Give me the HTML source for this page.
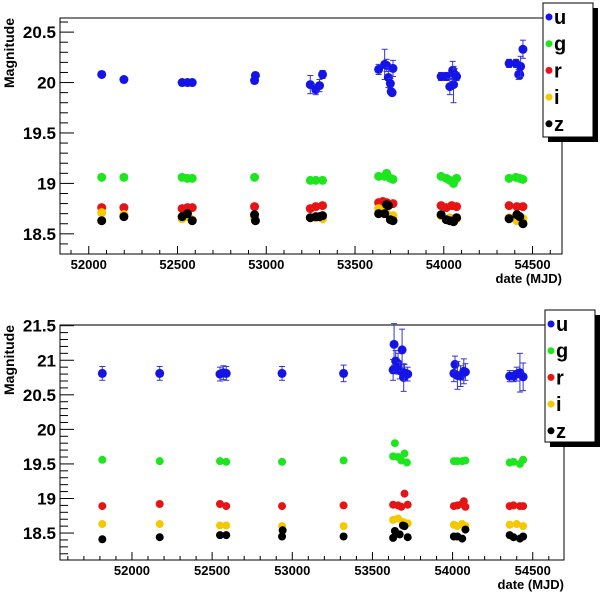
<!DOCTYPE html>
<html><head><meta charset="utf-8"><style>
html,body{margin:0;padding:0;background:#fff;}
svg{display:block;font-family:"Liberation Sans",Arial,sans-serif;}
</style></head><body>
<svg id="chart" width="600" height="593" viewBox="0 0 600 593" xmlns="http://www.w3.org/2000/svg"></svg>
<script>
// ===== Top panel data =====
const topBands = ["u","g","r","i","z"];
const topUx = [52073,52198,52526,52556,52583,52934,52939,53248,53279,53300,53317,53633,53667,53678,53688,53699,53704,53709,53714,53985,54014,54034,54050,54055,54061,54072,54368,54407,54422,54428,54433,54446];
const topUy = [20.08,20.03,20.0,20.0,20.0,20.02,20.07,19.98,19.93,19.97,20.08,20.13,20.18,20.17,20.05,19.99,19.91,19.90,20.14,20.06,20.06,19.96,20.12,19.98,20.08,20.06,20.19,20.19,20.08,20.08,20.16,20.33];
const topUe = [0.03,0.02,0.03,0.03,0.03,0.02,0.02,0.09,0.05,0.06,0.04,0.05,0.15,0.06,0.1,0.05,0.03,0.03,0.08,0.04,0.04,0.08,0.09,0.18,0.06,0.04,0.04,0.04,0.05,0.04,0.1,0.09];
const topGx = [52073,52198,52526,52556,52583,52934,53248,53279,53317,53633,53667,53678,53699,53714,53985,54014,54034,54055,54072,54368,54407,54428,54446];
const topGy = [19.06,19.06,19.06,19.05,19.05,19.06,19.03,19.03,19.03,19.07,19.07,19.10,19.05,19.04,19.07,19.05,19.03,19.00,19.05,19.05,19.06,19.05,19.04];
const topRx = [52073,52198,52526,52556,52583,52934,53248,53279,53317,53633,53657,53678,53714,53985,54014,54045,54072,54368,54412,54446];
const topRy = [18.76,18.76,18.75,18.76,18.76,18.77,18.75,18.77,18.78,18.81,18.82,18.81,18.80,18.78,18.76,18.78,18.77,18.78,18.77,18.77];
const topIx = [52073,52198,52526,52556,52583,52934,53248,53279,53317,53633,53657,53678,53714,53985,54034,54072,54368,54412,54446];
const topIy = [18.71,18.69,18.65,18.67,18.64,18.66,18.66,18.66,18.65,18.75,18.73,18.70,18.68,18.68,18.66,18.65,18.66,18.63,18.65];
const topZx = [52073,52198,52526,52556,52583,52934,52939,53248,53279,53300,53317,53633,53667,53678,53688,53699,53714,53985,54014,54034,54055,54072,54368,54412,54428,54446];
const topZy = [18.63,18.67,18.67,18.70,18.63,18.69,18.63,18.66,18.67,18.67,18.68,18.70,18.70,18.79,18.78,18.64,18.63,18.69,18.64,18.63,18.62,18.66,18.65,18.69,18.67,18.60];
const topYTicks = [18.5,19,19.5,20,20.5];
const topYLabels = ["18.5","19","19.5","20","20.5"];
const xTicks = [52000,52500,53000,53500,54000,54500];
const xLabels = ["52000","52500","53000","53500","54000","54500"];

// ===== Bottom panel data =====
const botUx = [51815,52173,52549,52570,52588,52936,53320,53629,53635,53645,53660,53670,53685,53695,53700,53720,54008,54015,54030,54050,54070,54080,54356,54380,54400,54420,54440];
const botUy = [20.81,20.81,20.80,20.82,20.81,20.81,20.81,20.86,21.23,20.99,20.95,20.85,21.15,20.75,20.82,20.80,20.81,20.94,20.78,20.77,20.84,20.83,20.77,20.77,20.80,20.82,20.76];
const botUe = [0.1,0.1,0.1,0.1,0.1,0.1,0.12,0.15,0.3,0.15,0.15,0.12,0.3,0.2,0.12,0.1,0.12,0.12,0.2,0.15,0.18,0.12,0.08,0.08,0.1,0.28,0.2];
const botGx = [51815,52173,52549,52588,52936,53320,53629,53640,53660,53680,53700,53715,54008,54030,54060,54080,54356,54380,54420,54440];
const botGy = [19.56,19.54,19.54,19.53,19.53,19.55,19.61,19.80,19.60,19.55,19.65,19.52,19.54,19.54,19.54,19.55,19.52,19.53,19.50,19.56];
const botRx = [51815,52173,52549,52588,52936,53320,53629,53660,53680,53700,53720,54008,54030,54060,54070,54080,54356,54380,54420,54440];
const botRy = [18.89,18.92,18.92,18.89,18.89,18.90,18.91,18.90,18.88,19.07,18.91,18.89,18.90,18.92,18.96,18.88,18.89,18.90,18.89,18.89];
const botIx = [51815,52173,52549,52588,52936,53320,53629,53660,53690,53720,54008,54030,54060,54080,54356,54400,54440];
const botIy = [18.63,18.63,18.61,18.61,18.60,18.60,18.69,18.71,18.66,18.64,18.62,18.60,18.63,18.60,18.62,18.63,18.60];
const botZx = [51815,52173,52549,52588,52936,52940,53320,53629,53640,53670,53690,53700,53720,54008,54030,54060,54080,54356,54380,54420,54440];
const botZy = [18.41,18.44,18.47,18.47,18.45,18.54,18.45,18.43,18.53,18.48,18.61,18.60,18.44,18.45,18.45,18.42,18.55,18.47,18.44,18.42,18.45];
const botYTicks = [18.5,19,19.5,20,20.5,21,21.5];
const botYLabels = ["18.5","19","19.5","20","20.5","21","21.5"];

const colors = {u:"#1414e6", g:"#1ee61e", r:"#e61414", i:"#f5c800", z:"#000000"};
const NS = "http://www.w3.org/2000/svg";
const svg = document.getElementById("chart");
function mk(tag, attrs, parent){
  const e = document.createElementNS(NS, tag);
  for (const k in attrs) e.setAttribute(k, attrs[k]);
  (parent||svg).appendChild(e);
  return e;
}

function panel(cfg){
  const g = mk("g", {});
  
  
  const X = v => cfg.L + (v - cfg.x0) / (cfg.x1 - cfg.x0) * (cfg.R - cfg.L);
  const Y = v => cfg.B - (v - cfg.y0) / (cfg.y1 - cfg.y0) * (cfg.B - cfg.T);
  const fr = mk("rect", {x:cfg.L, y:cfg.T, width:cfg.R-cfg.L, height:cfg.B-cfg.T, fill:"none", stroke:"#000", "stroke-width":1}, g);
  
  
  if (cfg.grayTop) mk("line", {x1:cfg.L, x2:cfg.R, y1:cfg.T, y2:cfg.T, stroke:"#777", "stroke-width":2}, g);
  const yax = mk("g", {}, g);
  
  
  for (let v = Math.ceil(cfg.y0*10)/10; v <= cfg.y1 + 1e-9; v += 0.1) {
    const vv = Math.round(v*10)/10;
    const major = Math.abs(vv*2 - Math.round(vv*2)) < 1e-6;
    mk("line", {x1:cfg.L, x2:cfg.L + (major?14:8), y1:Y(vv), y2:Y(vv), stroke:"#000", "stroke-width":1}, yax);
  }
  cfg.yTicks.forEach((v,i)=>{
    const t = mk("text", {x:cfg.L-4, y:Y(v)+6, "text-anchor":"end", "font-size":17, "font-weight":"bold", fill:"#000"}, yax);
    t.textContent = cfg.yLabels[i];
    
    
  });
  const yt = mk("text", {transform:`translate(14,${cfg.T+35}) rotate(-90)`, "text-anchor":"middle", "font-size":14, "font-weight":"bold"}, yax);
  yt.textContent = "Magnitude";
  
  
  const xax = mk("g", {}, g);
  
  
  for (let v = Math.ceil(cfg.x0/100)*100; v <= cfg.x1; v += 100) {
    const major = v % 500 === 0;
    mk("line", {x1:X(v), x2:X(v), y1:cfg.B, y2:cfg.B-(major?8:4), stroke:"#000", "stroke-width":1}, xax);
  }
  xTicks.forEach((v,i)=>{
    const t = mk("text", {x:X(v), y:cfg.B+15, "text-anchor":"middle", "font-size":13, "font-weight":"bold"}, xax);
    t.textContent = xLabels[i];
    
    
  });
  const xt = mk("text", {x:cfg.R, y:cfg.B+29, "text-anchor":"end", "font-size":13, "font-weight":"bold"}, xax);
  xt.textContent = "date (MJD)";
  
  
  cfg.series.forEach(s=>{
    const sg = mk("g", {}, g);
    
    
    s.x.forEach((xv,i)=>{
      const cx = X(xv), cy = Y(s.y[i]);
      if (s.e) {
        const e = s.e[i];
        mk("line", {x1:cx, x2:cx, y1:Y(s.y[i]+e), y2:Y(s.y[i]-e), stroke:"#3333dd", "stroke-width":1}, sg);
        mk("line", {x1:cx-3, x2:cx+3, y1:Y(s.y[i]+e), y2:Y(s.y[i]+e), stroke:"#3333dd", "stroke-width":1}, sg);
        mk("line", {x1:cx-3, x2:cx+3, y1:Y(s.y[i]-e), y2:Y(s.y[i]-e), stroke:"#3333dd", "stroke-width":1}, sg);
      }
      const c = mk("circle", {cx:cx, cy:cy, r:s.r, fill:colors[s.band]}, sg);
      
      
    });
  });
  const lg = mk("g", {}, g);
  
  
  const lx = cfg.legX, ly = cfg.legY, lw = 50, lh = cfg.legH;
  mk("rect", {x:lx+5, y:ly+5, width:lw, height:lh, fill:"#000"}, lg);
  mk("rect", {x:lx, y:ly, width:lw, height:lh, fill:"#fff", stroke:"#000", "stroke-width":1}, lg);
  topBands.forEach((b,i)=>{
    const ey = ly + 14 + i*26.7;
    const en = mk("g", {}, lg);
    
    
    mk("circle", {cx:lx+6, cy:ey, r:3.5, fill:colors[b]}, en);
    const t = mk("text", {x:lx+11, y:ey+7, "font-size":20, "font-weight":"bold"}, en);
    t.textContent = b;
  });
}

panel({name:"top-panel", L:60, R:562, T:18, B:254, x0:51838, x1:54666, y0:18.30, y1:20.64,
  yTicks:topYTicks, yLabels:topYLabels, legX:543, legY:3, legH:134,
  series:[
    {band:"u", x:topUx, y:topUy, e:topUe, r:4.5},
    {band:"g", x:topGx, y:topGy, r:4.5},
    {band:"r", x:topRx, y:topRy, r:4.5},
    {band:"i", x:topIx, y:topIy, r:4.5},
    {band:"z", x:topZx, y:topZy, r:4.5}
  ]});
panel({name:"bottom-panel", L:60, R:564, T:325, B:560, x0:51551, x1:54695, y0:18.11, y1:21.51, grayTop:true,
  yTicks:botYTicks, yLabels:botYLabels, legX:545, legY:310, legH:132,
  series:[
    {band:"u", x:botUx, y:botUy, e:botUe, r:4.5},
    {band:"g", x:botGx, y:botGy, r:4},
    {band:"r", x:botRx, y:botRy, r:4},
    {band:"i", x:botIx, y:botIy, r:4},
    {band:"z", x:botZx, y:botZy, r:4}
  ]});
</script>
</body></html>
